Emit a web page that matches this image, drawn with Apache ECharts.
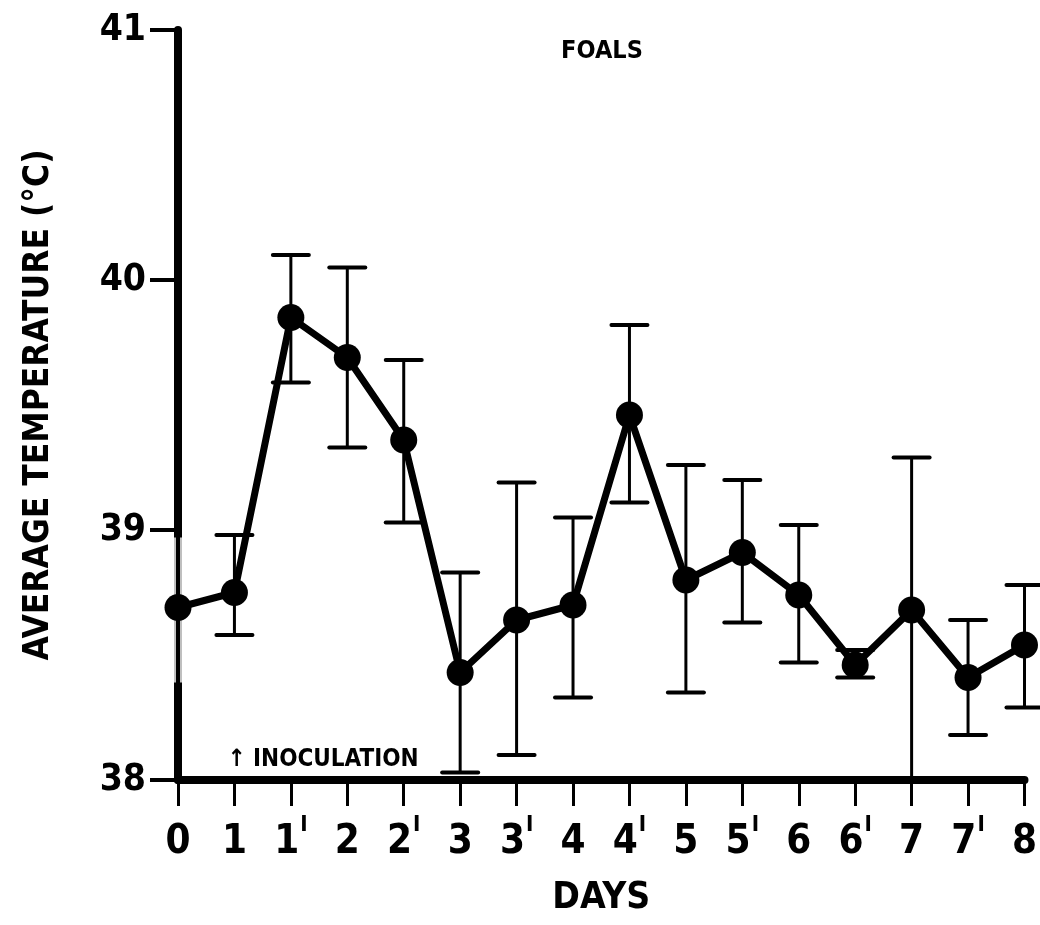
<!DOCTYPE html>
<html>
<head>
<meta charset="utf-8">
<script src="https://cdn.jsdelivr.net/npm/echarts@6/dist/echarts.min.js"></script>
<style>
html,body{margin:0;padding:0;background:#fff;}
#chart{width:1040px;height:925px;}
</style>
</head>
<body>
<div id="chart"></div>
<script>
// Day labels: [main, superscript]
const dayMain = ['0','1','1','2','2','3','3','4','4','5','5','6','6','7','7','8'];
const daySup  = ['', '', 'I','', 'I','', 'I','', 'I','', 'I','', 'I','', 'I',''];
const meanTemp  = [38.69, 38.75, 39.85, 39.69, 39.36, 38.43, 38.64, 38.70, 39.46, 38.80, 38.91, 38.74, 38.46, 38.68, 38.41, 38.54];
const upperTemp = [38.97, 38.98, 40.10, 40.05, 39.68, 38.83, 39.19, 39.05, 39.82, 39.26, 39.20, 39.02, 38.52, 39.29, 38.64, 38.78];
const lowerTemp = [38.39, 38.58, 39.59, 39.33, 39.03, 38.03, 38.10, 38.33, 39.11, 38.35, 38.63, 38.47, 38.41, 38.00, 38.18, 38.29];
const yTicks = [38, 39, 40, 41];

const categories = dayMain.map((d, i) => d + (daySup[i] ? '^' + daySup[i] : ''));
const FONT = '"DejaVu Sans Condensed", "Liberation Sans Narrow", sans-serif';

const errData = categories.map((c, i) => [i, lowerTemp[i], upperTemp[i]]);

const chart = echarts.init(document.getElementById('chart'), null, {renderer: 'canvas'});
chart.setOption({
  animation: false,
  backgroundColor: '#fff',
  title: {
    text: 'FOALS',
    left: 597, top: 34,
    textAlign: 'center',
    textStyle: {fontFamily: FONT, fontWeight: 'bold', fontSize: 25, color: '#000'}
  },
  grid: {left: 178, right: 15, top: 30, bottom: 145, containLabel: false},
  xAxis: {
    type: 'category',
    data: categories,
    boundaryGap: false,
    name: 'DAYS',
    nameLocation: 'middle',
    nameGap: 100,
    nameTextStyle: {fontFamily: FONT, fontWeight: 'bold', fontSize: 37, color: '#000'},
    axisLine: {lineStyle: {color: '#000', width: 8, cap: 'round'}},
    axisTick: {show: true, alignWithLabel: true, length: 26, lineStyle: {color: '#000', width: 3}},
    axisLabel: {
      margin: 34,
      interval: 0,
      formatter: function (v) {
        const parts = v.split('^');
        return parts.length > 1 ? '{m|' + parts[0] + '}{s|' + parts[1] + '}' : '{m|' + parts[0] + '}';
      },
      rich: {
        m: {fontFamily: FONT, fontWeight: 'bold', fontSize: 40, lineHeight: 58, color: '#000'},
        s: {fontFamily: FONT, fontWeight: 'bold', fontSize: 22, lineHeight: 20, color: '#000', verticalAlign: 'top', padding: [0, 0, 0, 1]}
      }
    },
    splitLine: {show: false}
  },
  yAxis: {
    type: 'value',
    min: 38, max: 41, interval: 1,
    name: 'AVERAGE TEMPERATURE (°C)',
    nameLocation: 'middle',
    nameGap: 122,
    nameTextStyle: {fontFamily: FONT, fontWeight: 'bold', fontSize: 35, color: '#000'},
    axisLine: {show: true, lineStyle: {color: '#000', width: 8}},
    axisTick: {show: true, length: 28, lineStyle: {color: '#000', width: 4}},
    axisLabel: {
      margin: 32,
      fontFamily: FONT, fontWeight: 'bold', fontSize: 37, color: '#000',
      formatter: function (v) { return yTicks.indexOf(v) >= 0 ? String(v) : ''; }
    },
    splitLine: {show: false}
  },
  series: [
    {
      type: 'custom',
      name: 'err',
      z: 3,
      data: errData,
      renderItem: function (params, api) {
        const i = api.value(0);
        const lo = api.coord([i, api.value(1)]);
        const hi = api.coord([i, api.value(2)]);
        const hw = 18;
        if (i === 0) {
          return {
            type: 'group',
            children: [
              {type: 'line', shape: {x1: lo[0] - 3, y1: lo[1], x2: hi[0] - 3, y2: hi[1]}, style: {stroke: '#fff', lineWidth: 1.5}},
              {type: 'line', shape: {x1: lo[0] + 3, y1: lo[1], x2: hi[0] + 3, y2: hi[1]}, style: {stroke: '#fff', lineWidth: 1.5}}
            ]
          };
        }
        return {
          type: 'group',
          children: [
            {type: 'line', shape: {x1: lo[0], y1: lo[1], x2: hi[0], y2: hi[1]}, style: {stroke: '#000', lineWidth: 3}},
            {type: 'line', shape: {x1: hi[0] - hw, y1: hi[1], x2: hi[0] + hw, y2: hi[1]}, style: {stroke: '#000', lineWidth: 4, lineCap: 'round'}},
            {type: 'line', shape: {x1: lo[0] - hw, y1: lo[1], x2: lo[0] + hw, y2: lo[1]}, style: {stroke: '#000', lineWidth: 4, lineCap: 'round'}}
          ]
        };
      }
    },
    {
      type: 'line',
      name: 'mean',
      z: 4,
      data: meanTemp,
      symbol: 'circle',
      symbolSize: 27,
      itemStyle: {color: '#000'},
      lineStyle: {color: '#000', width: 7},
      markPoint: {
        symbol: 'circle',
        symbolSize: 0,
        data: [{coord: [1, 38.08], value: 0}],
        label: {
          show: true,
          position: 'inside',
          align: 'left',
          offset: [-7, 0],
          formatter: '↑ INOCULATION',
          fontFamily: FONT, fontWeight: 'bold', fontSize: 24, color: '#000'
        }
      }
    }
  ]
});
</script>
</body>
</html>
